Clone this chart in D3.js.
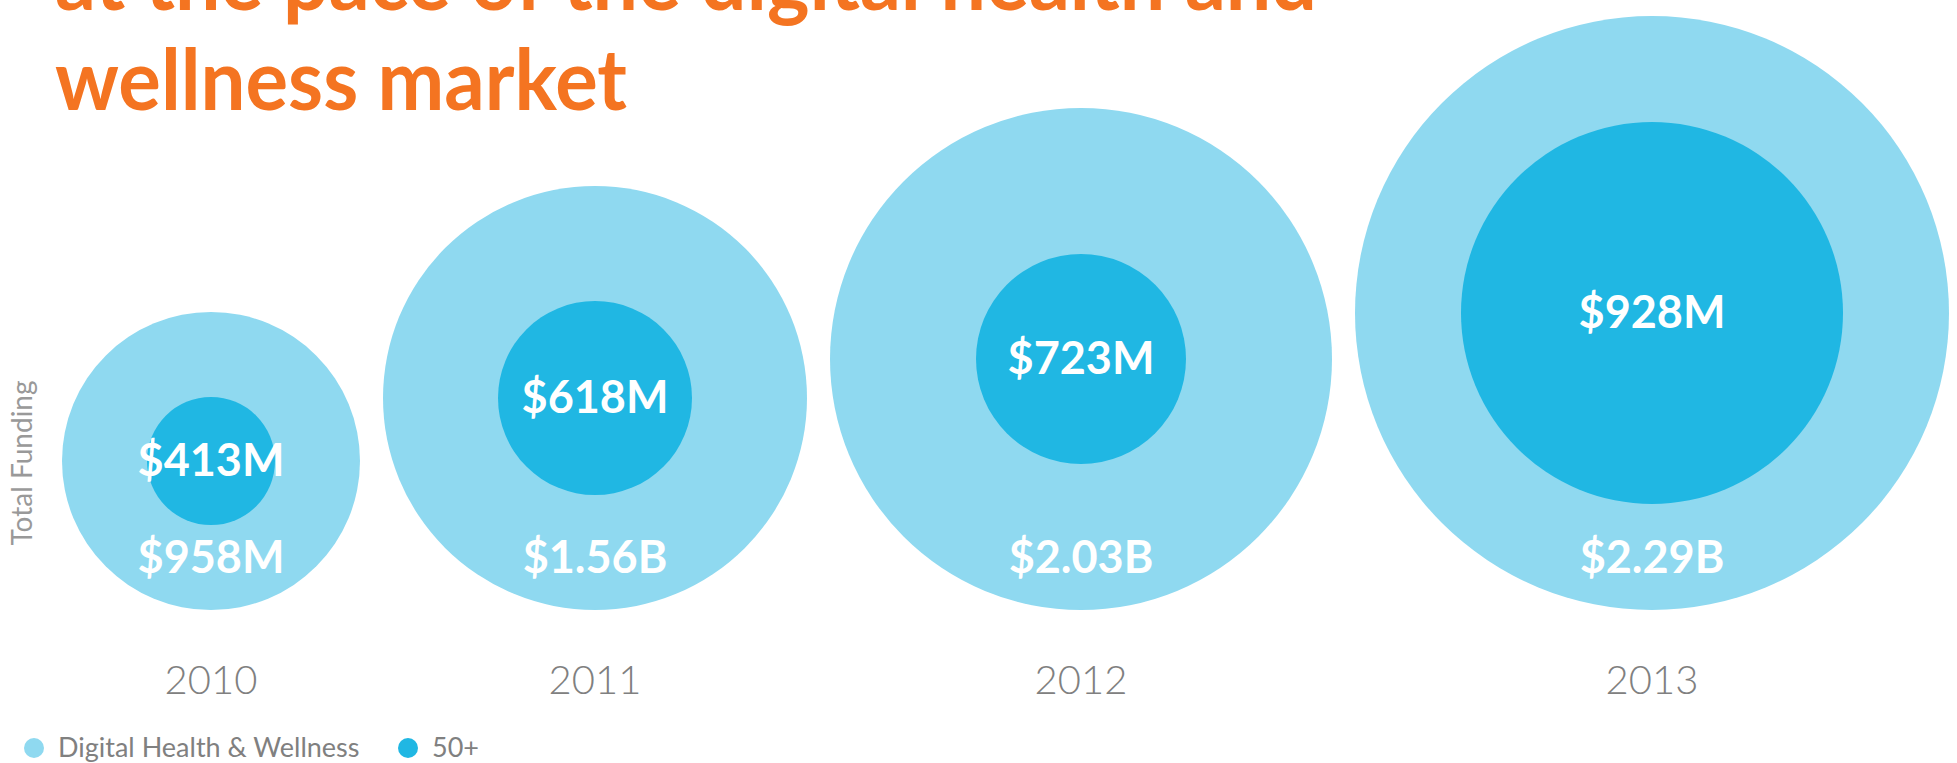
<!DOCTYPE html>
<html>
<head>
<meta charset="utf-8">
<script src="https://cdn.jsdelivr.net/npm/d3@7"></script>
<style>
  body { margin: 0; background: #fff; }
  #chart { width: 1957px; height: 763px; }
  text { font-family: Lato, "Open Sans", sans-serif; }
</style>
</head>
<body>
<div id="chart"></div>
<script>
// data
const years = ["2010", "2011", "2012", "2013"];
const totalFunding = [958, 1560, 2030, 2290];   // $M, Digital Health & Wellness
const fiftyPlus = [413, 618, 723, 928];          // $M, 50+
const totalLabels = ["$958M", "$1.56B", "$2.03B", "$2.29B"];
const fiftyLabels = ["$413M", "$618M", "$723M", "$928M"];
const titleLines = ["at the pace of the digital health and", "wellness market"];
const legendItems = ["Digital Health & Wellness", "50+"];

const colors = { total: "#8fd9f0", fifty: "#20b7e3", title: "#f47421", grey: "#808080" };

const width = 1957, height = 763;
const svg = d3.select("#chart").append("svg")
    .attr("width", width)
    .attr("height", height);

// radius scales (the original infographic is not area-true, so piecewise)
const rTotal = d3.scaleLinear().domain(totalFunding).range([149, 212, 251, 297]);
const rFifty = d3.scaleLinear().domain(fiftyPlus).range([64, 97, 105, 191]);

// circles sit on a common baseline, packed left to right
const baseY = 610, startX = 62, gap = 23;
const data = [];
let x = startX;
years.forEach((y, i) => {
    const r = rTotal(totalFunding[i]);
    data.push({ year: y, cx: x + r, r: r, total: totalFunding[i], fifty: fiftyPlus[i], i: i });
    x += 2 * r + gap;
});

// title (first line runs off the top, as in the original)
svg.append("g").selectAll("text")
    .data(titleLines)
    .join("text")
    .attr("x", 55)
    .attr("y", (d, i) => 10 + i * 100)
    .attr("fill", colors.title)
    .attr("font-size", 84)
    .attr("font-weight", 700)
    .attr("textLength", (d, i) => i === 0 ? 1262 : 572)
    .attr("lengthAdjust", "spacingAndGlyphs")
    .text(d => d);

const g = svg.append("g");

const bubble = g.selectAll(".bubble")
    .data(data)
    .join("g")
    .attr("class", "bubble");

bubble.append("circle")
    .attr("cx", d => d.cx)
    .attr("cy", d => baseY - d.r)
    .attr("r", d => d.r)
    .attr("fill", colors.total);

bubble.append("circle")
    .attr("cx", d => d.cx)
    .attr("cy", d => baseY - d.r)
    .attr("r", d => rFifty(d.fifty))
    .attr("fill", colors.fifty);

bubble.append("text")
    .attr("x", d => d.cx)
    .attr("y", d => baseY - d.r + 15)
    .attr("text-anchor", "middle")
    .attr("fill", "#fff")
    .attr("font-size", 45)
    .attr("font-weight", 700)
    .text(d => fiftyLabels[d.i]);

bubble.append("text")
    .attr("x", d => d.cx)
    .attr("y", baseY - 37)
    .attr("text-anchor", "middle")
    .attr("fill", "#fff")
    .attr("font-size", 45)
    .attr("font-weight", 700)
    .text(d => totalLabels[d.i]);

// year labels
bubble.append("text")
    .attr("x", d => d.cx)
    .attr("y", 694)
    .attr("text-anchor", "middle")
    .attr("fill", colors.grey)
    .attr("font-size", 40)
    .attr("font-weight", 300)
    .text(d => d.year);

// y axis label
svg.append("text")
    .attr("transform", "translate(32,463) rotate(-90)")
    .attr("text-anchor", "middle")
    .attr("fill", "#999")
    .attr("font-size", 28)
    .text("Total Funding");

// legend
const legend = svg.append("g").attr("transform", "translate(34,748)");
const legendX = [0, 374];
const legendColors = [colors.total, colors.fifty];
const item = legend.selectAll("g")
    .data(legendItems)
    .join("g")
    .attr("transform", (d, i) => `translate(${legendX[i]},0)`);

item.append("circle")
    .attr("r", 10)
    .attr("fill", (d, i) => legendColors[i]);

item.append("text")
    .attr("x", 24)
    .attr("y", 9)
    .attr("fill", colors.grey)
    .attr("font-size", 27)
    .text(d => d);
</script>
</body>
</html>
